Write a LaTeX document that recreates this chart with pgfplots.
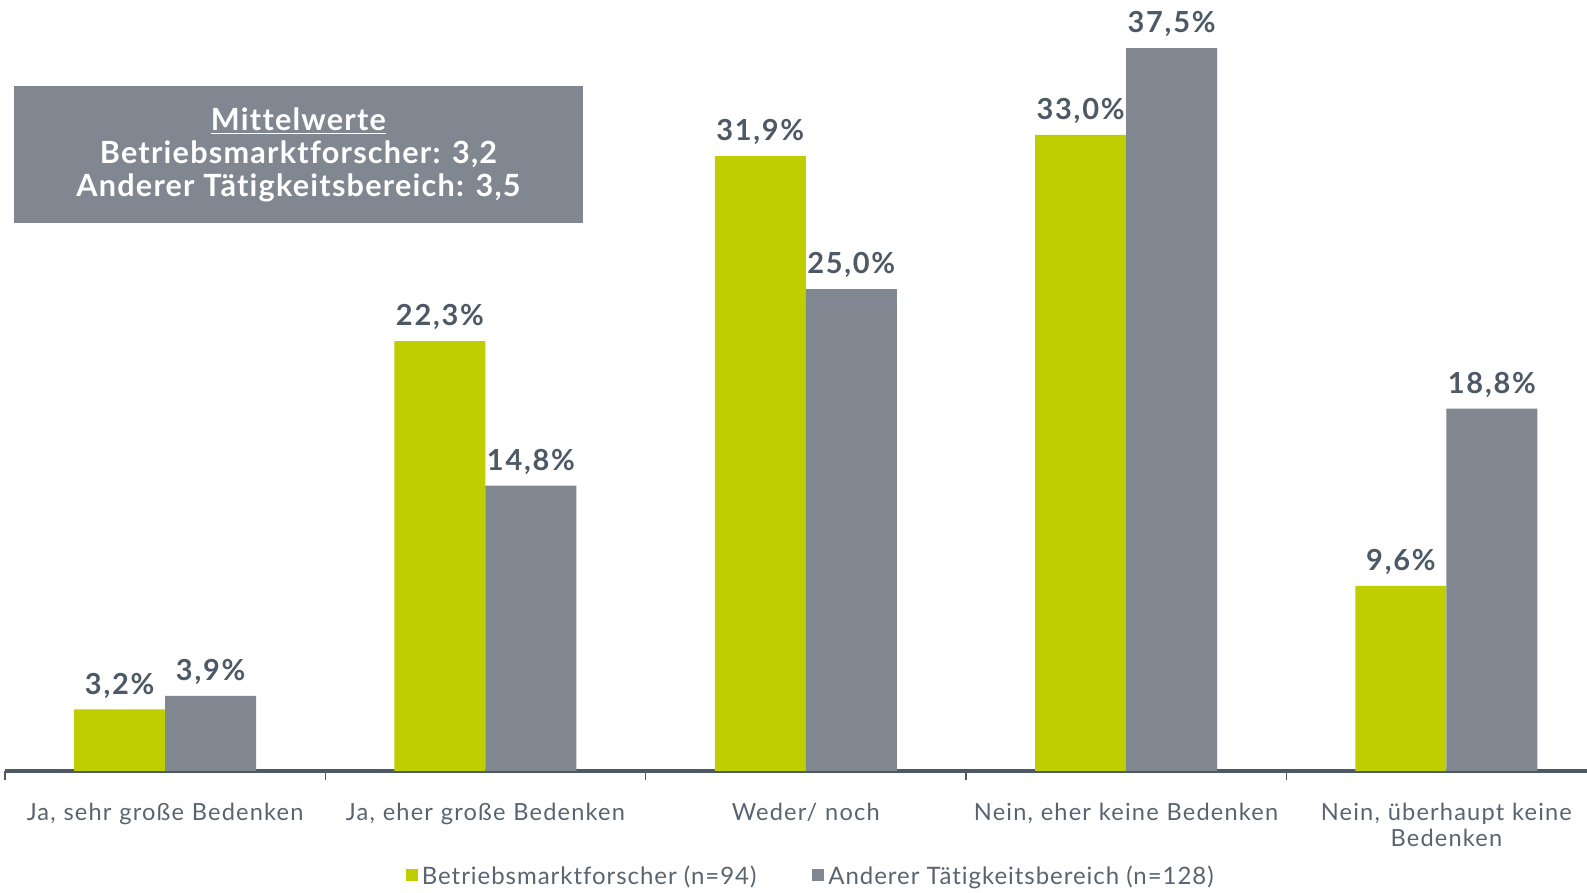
\documentclass[border=0pt]{standalone}
\usepackage{fontspec}
\setmainfont{Lato}[Ligatures={NoCommon}]
\usepackage{pgfplots}
\pgfplotsset{compat=1.18}

\definecolor{barGreen}{RGB}{191,206,0}
\definecolor{barGray}{RGB}{128,135,144}
\definecolor{txtGray}{RGB}{78,89,102}
\definecolor{lblGray}{RGB}{90,100,112}

\begin{document}
\begin{tikzpicture}
\begin{axis}[
  scale only axis,
  width=791pt, height=385.5pt,
  ybar=0pt, bar width=45.5pt,
  xmin=-0.5, xmax=4.439,
  ymin=0, ymax=40,
  axis x line*=bottom,
  hide y axis,
  x axis line style={-, line width=2pt, draw=txtGray},
  xtick={0,1,2,3,4},
  xticklabels={Ja{,} sehr große Bedenken, Ja{,} eher große Bedenken, Weder/ noch, Nein{,} eher keine Bedenken, {Nein, überhaupt keine\\Bedenken}},
  major tick length=0pt,
  minor xtick={-0.5,0.5,1.5,2.5,3.5},
  minor tick length=4.5pt,
  tick align=outside,
  minor tick style={draw=txtGray, line width=0.7pt},
  xticklabel style={font=\fontsize{11.8}{12.8}\selectfont\addfontfeatures{LetterSpace=5}, text=lblGray, align=center, text width=160pt, yshift=-12.5pt},
  nodes near coords={\pgfmathprintnumber[fixed, fixed zerofill, precision=1, use comma, assume math mode=true]{\pgfplotspointmeta}\%},
  every node near coord/.append style={font=\fontsize{14.5}{16}\selectfont\bfseries\addfontfeatures{LetterSpace=6}, text=txtGray, yshift=2pt},
  legend style={at={(0.51,-0.137)}, anchor=center, draw=none, fill=none,
    font=\fontsize{12}{13}\selectfont\addfontfeatures{LetterSpace=4}, text=lblGray,
    legend columns=-1, /tikz/every even column/.append style={column sep=26pt},
    inner sep=0pt},
  legend image code/.code={\fill[#1] (0pt,-2pt) rectangle (6pt,4pt);},
  clip=false,
]
\addplot[fill=barGreen, draw=none] coordinates {(0,3.2) (1,22.3) (2,31.9) (3,33.0) (4,9.6)};
\addplot[fill=barGray, draw=none] coordinates {(0,3.9) (1,14.8) (2,25.0) (3,37.5) (4,18.8)};
\legend{Betriebsmarktforscher (n=94), Anderer Tätigkeitsbereich (n=128)}
\node[fill=barGray, text=white, minimum width=284.5pt, minimum height=68.5pt, inner sep=0pt,
  align=center, font=\fontsize{15.3}{16.6}\selectfont\bfseries\addfontfeatures{LetterSpace=4}]
  at (rel axis cs:0.1855,0.799) {\underline{Mittelwerte}\\Betriebsmarktforscher: 3,2\\Anderer Tätigkeitsbereich: 3,5};
\end{axis}
\pgfresetboundingbox
\path[use as bounding box] ([xshift=-2.5pt,yshift=-61pt]current axis.south west) rectangle (current axis.north east);
\end{tikzpicture}
\end{document}
